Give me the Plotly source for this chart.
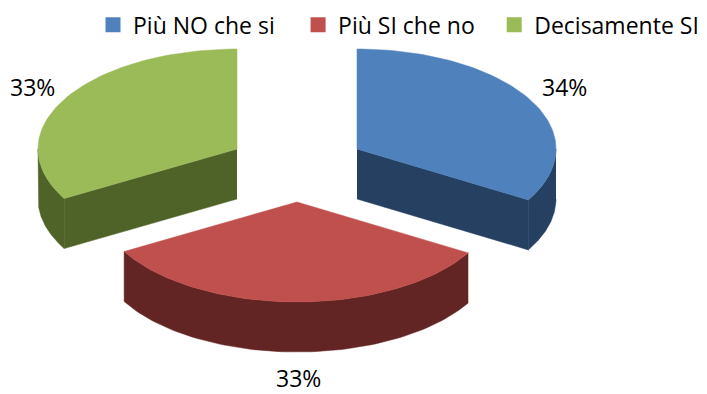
import math
import plotly.graph_objects as go

categories = ["Più NO che si", "Più SI che no", "Decisamente SI"]
values = [33.5, 33.25, 33.25]
labels = ["34%", "33%", "33%"]
top_colors = ["#4F81BD", "#C0504D", "#9BBB59"]
side_colors = ["#254061", "#632523", "#4F6228"]
centers = [(357, 149), (297, 202), (237, 149)]
label_positions = [(564, 87), (298, 378), (32, 87)]
RX, RY, DEPTH = 199, 100, 50
FONT = "Open Sans, Liberation Sans"
PAGE_OFFSET = 8  # the browser page's body margin

def pt(c, deg, dy=0):
    a = math.radians(deg)
    return c[0] + RX * math.sin(a), c[1] - RY * math.cos(a) + dy

def arc(c, a0, a1, dy=0, n=80):
    return [pt(c, a0 + (a1 - a0) * i / n, dy) for i in range(n + 1)]

fig = go.Figure()
def add(points, color):
    fig.add_trace(go.Scatter(
        x=[p[0] for p in points], y=[p[1] for p in points], mode="lines",
        fill="toself", fillcolor=color, line=dict(color=color, width=0.5),
        showlegend=False, hoverinfo="skip"))

start = 0
for i, v in enumerate(values):
    end = start + v * 3.6
    c = centers[i]
    w0, w1 = max(start, 90), min(end, 270)
    if w1 > w0:
        add(arc(c, w0, w1) + arc(c, w1, w0, DEPTH), side_colors[i])
    if end < 180:
        add([c, pt(c, end), pt(c, end, DEPTH), (c[0], c[1] + DEPTH)], side_colors[i])
    if start > 180:
        add([c, pt(c, start), pt(c, start, DEPTH), (c[0], c[1] + DEPTH)], side_colors[i])
    add([c] + arc(c, start, end) + [c], top_colors[i])
    start = end

legend_ids = ["legend", "legend2", "legend3"]
for name, color, lid in zip(categories, top_colors, legend_ids):
    fig.add_trace(go.Scatter(
        x=[None], y=[None], mode="markers", name=name, legend=lid, showlegend=True,
        marker=dict(symbol="square", size=15, color=color)))

for (x, y), t in zip(label_positions, labels):
    fig.add_annotation(x=x, y=y, text=t, showarrow=False,
                       font=dict(family=FONT, size=23, color="#000000"))

def legend_style(x, anchor="left"):
    return dict(x=x, xanchor=anchor, y=1.012, yanchor="top", itemwidth=30,
                font=dict(family=FONT, size=23, color="#000000"),
                itemclick=False, itemdoubleclick=False, bgcolor="rgba(0,0,0,0)")

fig.update_layout(
    width=707 - PAGE_OFFSET, height=394 - PAGE_OFFSET,
    margin=dict(l=0, r=0, t=0, b=0, autoexpand=False),
    paper_bgcolor="white", plot_bgcolor="white",
    xaxis=dict(range=[PAGE_OFFSET, 707], visible=False, fixedrange=True),
    yaxis=dict(range=[394, PAGE_OFFSET], visible=False, fixedrange=True),
    legend=legend_style(0.1216),
    legend2=legend_style(0.415),
    legend3=legend_style(0.996, "right"),
)
fig.write_html("out.html")
